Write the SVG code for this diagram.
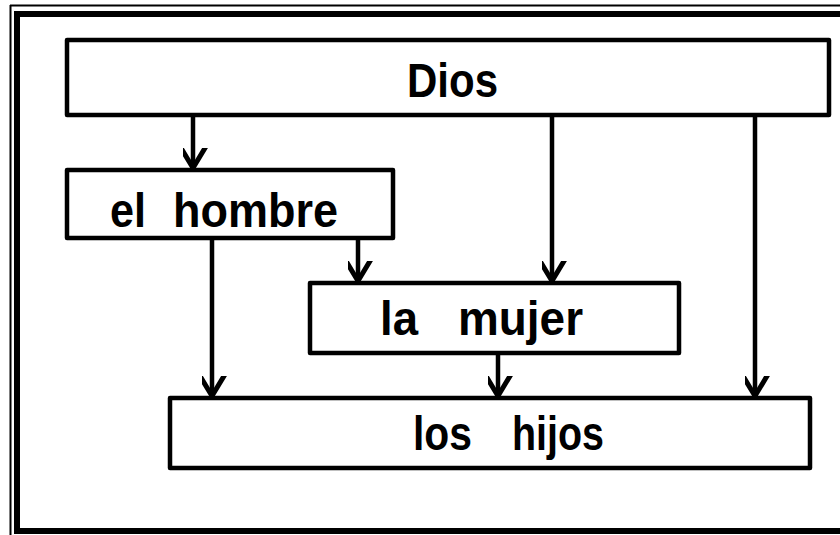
<svg xmlns="http://www.w3.org/2000/svg" width="840" height="535" viewBox="0 0 840 535">
<defs>
<style>
.box{fill:#fff;stroke:#000;stroke-width:4.5;stroke-linejoin:round}
.con{stroke:#000;stroke-width:4.5;fill:none}
.t{font-family:"Liberation Sans",Arial,sans-serif;font-weight:bold;font-size:49px;fill:#000}
</style>
<marker id="ah" markerUnits="userSpaceOnUse" markerWidth="40" markerHeight="40" viewBox="-20 -30 40 40" refX="0" refY="0" orient="auto-start-reverse">
<path d="M-15,-25 L0,0 L15,-25" fill="none" stroke="#000" stroke-width="5" stroke-linecap="round" transform="rotate(-90)"/>
</marker>
</defs>
<rect width="840" height="535" fill="#fff"/>
<g id="frame">
<line x1="10" y1="5.5" x2="840" y2="5.5" stroke="#000" stroke-width="2"/>
<line x1="10.5" y1="5" x2="10.5" y2="535" stroke="#000" stroke-width="2"/>
<line x1="14" y1="14" x2="840" y2="14" stroke="#000" stroke-width="6"/>
<line x1="17" y1="11" x2="17" y2="534" stroke="#000" stroke-width="6"/>
<line x1="14" y1="531" x2="840" y2="531" stroke="#000" stroke-width="6"/>
</g>
<g id="connectors">
<line class="con" x1="193" y1="115" x2="193" y2="168" marker-end="url(#ah)"/>
<line class="con" x1="552" y1="115" x2="552" y2="281" marker-end="url(#ah)"/>
<line class="con" x1="755" y1="115" x2="755" y2="396" marker-end="url(#ah)"/>
<line class="con" x1="358" y1="238" x2="358" y2="281" marker-end="url(#ah)"/>
<line class="con" x1="212" y1="238" x2="212" y2="396" marker-end="url(#ah)"/>
<line class="con" x1="498" y1="353" x2="498" y2="396" marker-end="url(#ah)"/>
</g>
<g id="dios">
<rect class="box" x="67" y="40" width="762" height="75"/>
<text class="t" x="407" y="97" textLength="91" lengthAdjust="spacingAndGlyphs">Dios</text>
</g>
<g id="hombre">
<rect class="box" x="67" y="170" width="326" height="68"/>
<text class="t" x="110" y="227" textLength="36" lengthAdjust="spacingAndGlyphs">el</text>
<text class="t" x="173" y="227" textLength="165" lengthAdjust="spacingAndGlyphs">hombre</text>
</g>
<g id="mujer">
<rect class="box" x="310" y="283" width="369" height="70"/>
<text class="t" x="380" y="335" textLength="38" lengthAdjust="spacingAndGlyphs">la</text>
<text class="t" x="458" y="335" textLength="125" lengthAdjust="spacingAndGlyphs">mujer</text>
</g>
<g id="hijos">
<rect class="box" x="170" y="398" width="640" height="70"/>
<text class="t" x="413" y="450" textLength="59" lengthAdjust="spacingAndGlyphs">los</text>
<text class="t" x="512" y="450" textLength="92" lengthAdjust="spacingAndGlyphs">hijos</text>
</g>
</svg>
